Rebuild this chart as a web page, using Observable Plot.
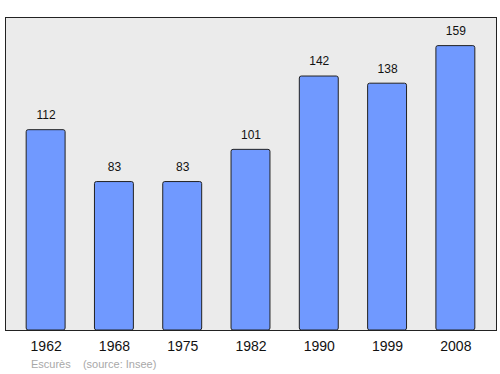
<!DOCTYPE html>
<html>
<head>
<meta charset="utf-8">
<script src="https://cdn.jsdelivr.net/npm/d3@7"></script>
<script src="https://cdn.jsdelivr.net/npm/@observablehq/plot@0.6"></script>
<style>
  html, body { margin: 0; padding: 0; background: #fff; }
  #chart svg { display: block; }
  #caption { font-family: "Liberation Sans", Arial, sans-serif; font-size: 11px; color: #a8a8a8; line-height: 16px; padding-left: 31px; white-space: pre; }
</style>
</head>
<body>
<div id="chart"></div>
<div id="caption">Escurès    (source: Insee)</div>
<script>
const years = ["1962", "1968", "1975", "1982", "1990", "1999", "2008"];
const population = [112, 83, 83, 101, 142, 138, 159];

const data = years.map((y, i) => ({year: y, pop: population[i]}));

const chart = Plot.plot({
  width: 500,
  height: 356,
  marginTop: 17,
  marginBottom: 26,
  marginLeft: 5,
  marginRight: 4,
  style: {fontFamily: "'Liberation Sans', Arial, sans-serif", background: "#fff"},
  x: {domain: years, paddingInner: 0.43, paddingOuter: 0.31, round: false, label: null},
  y: {domain: [0, 175], axis: null},
  marks: [
    Plot.frame({fill: "#ebebeb", stroke: "#222", strokeWidth: 1}),
    Plot.barY(data, {x: "year", y: "pop", fill: "#7099ff", stroke: "#222", strokeWidth: 1, rx: 2}),
    Plot.text(data, {x: "year", y: "pop", text: d => String(d.pop), dy: -15, fontSize: 12, fill: "#111"}),
    Plot.axisX({tickSize: 0, tickPadding: 11, fontSize: 14, color: "#111", label: null})
  ]
});
document.getElementById("chart").appendChild(chart);
</script>
</body>
</html>
